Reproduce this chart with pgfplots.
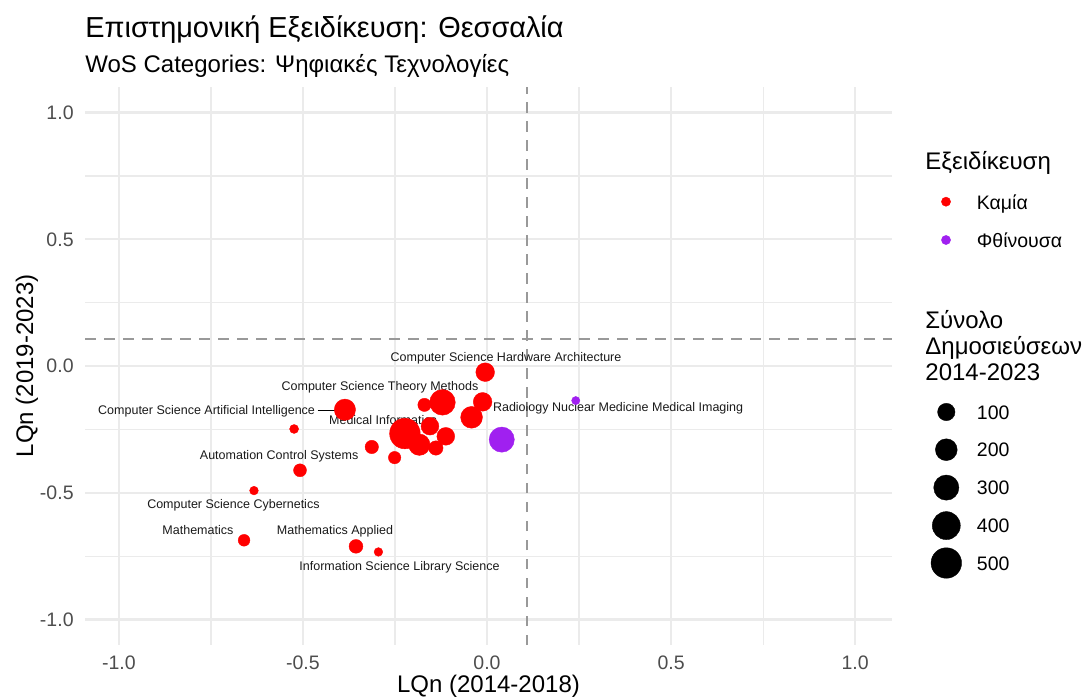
\documentclass[border=0pt]{standalone}
\usepackage{fontspec}
\setmainfont{Liberation Sans}
\usepackage{pgfplots}
\pgfplotsset{compat=1.18}
\usepackage{pgfplotstable}
\definecolor{lqred}{HTML}{FF0000}
\definecolor{lqpurple}{HTML}{A020F0}
\definecolor{gridc}{HTML}{EBEBEB}
\definecolor{tickc}{HTML}{4D4D4D}
\definecolor{dashc}{HTML}{999999}
\definecolor{lblc}{HTML}{1A1A1A}

% LQn 2014-2018, LQn 2019-2023, total publications 2014-2023
\pgfplotstableread{
x y n
-0.005 -0.024 125
-0.386 -0.172 185
-0.524 -0.248 8
-0.121 -0.143 315
-0.170 -0.153 38
-0.012 -0.141 125
-0.042 -0.202 199
-0.155 -0.237 107
-0.223 -0.266 505
-0.184 -0.310 189
-0.112 -0.277 107
-0.139 -0.323 52
-0.313 -0.319 40
-0.251 -0.361 30
-0.508 -0.411 35
-0.633 -0.491 7
-0.660 -0.687 24
-0.356 -0.711 45
-0.295 -0.733 7
}\redtab

\pgfplotstableread{
x y n
0.040 -0.290 300
0.241 -0.136 6
}\purpletab

\pgfplotstableread{
x y n
946.3 412.0 100
946.3 449.7 200
946.3 487.6 300
946.3 525.6 400
946.3 563.0 500
}\sizetab

\pgfplotsset{
  bubble/.style={scatter, only marks, mark=*,
    scatter/use mapped color={draw=#1, fill=#1, line width=0.2pt},
    visualization depends on={\thisrow{n} \as \nval},
    scatter/@pre marker code/.append style={/tikz/mark size={0.5*(3.6+12*sqrt((\nval-5)/525))}}},
}
\tikzset{lbl/.style={font=\fontsize{6.25}{7}\selectfont, text=lblc, inner sep=0pt, anchor=center}}

\begin{document}
\begin{tikzpicture}
\useasboundingbox (0,0) rectangle (542.5pt,348pt);
\begin{axis}[
  at={(42.5pt,25.5pt)}, anchor=south west,
  width=403.5pt, height=279.15pt, scale only axis,
  xmin=-1.092, xmax=1.1, ymin=-1.1, ymax=1.102,
  axis line style={draw=none},
  major tick length=0pt, minor tick length=0pt,
  xtick={-1,-0.5,0,0.5,1}, xticklabels={-1.0,-0.5,0.0,0.5,1.0},
  ytick={-1,-0.5,0,0.5,1}, yticklabels={-1.0,-0.5,0.0,0.5,1.0},
  minor xtick={-0.75,-0.25,0.25,0.75},
  minor ytick={-0.75,-0.25,0.25,0.75},
  grid=both,
  major grid style={gridc, line width=1.15pt},
  minor grid style={gridc, line width=0.6pt},
  xticklabel style={font=\fontsize{9.75}{11}\selectfont, text=tickc, inner sep=0pt, anchor=north, yshift=-5pt},
  yticklabel style={font=\fontsize{9.75}{11}\selectfont, text=tickc, inner sep=0pt, anchor=east, xshift=-5.5pt},
  xlabel={LQn (2014-2018)}, ylabel={LQn (2019-2023)},
  xlabel style={at={(axis description cs:0.5,-0.0736)}, anchor=center, font=\fontsize{12}{14}\selectfont, inner sep=0pt},
  ylabel style={at={(axis description cs:-0.0720,0.5)}, anchor=center, font=\fontsize{12}{14}\selectfont, inner sep=0pt},
  clip=false,
]
\addplot[dashc, line width=1pt, dash pattern=on 5.25pt off 4.25pt] coordinates {(0.108,-1.1) (0.108,1.102)};
\addplot[dashc, line width=1pt, dash pattern=on 5.25pt off 4.25pt] coordinates {(-1.092,0.108) (1.1,0.108)};

\addplot[bubble=lqred] table[x=x, y=y, meta=n]{\redtab};
\addplot[bubble=lqpurple] table[x=x, y=y, meta=n]{\purpletab};

\addplot[black, line width=0.75pt] coordinates {(-0.460,-0.1755) (-0.3905,-0.1755)};

\node[lbl] at (axis cs:0.0516,0.0323) {Computer Science Hardware Architecture};
\node[lbl] at (axis cs:-0.2908,-0.0821) {Computer Science Theory Methods};
\node[lbl] at (axis cs:-0.7617,-0.1783) {Computer Science Artificial Intelligence};
\node[lbl] at (axis cs:-0.2826,-0.2110) {Medical Informatics};
\node[lbl] at (axis cs:0.356,-0.1677) {Radiology Nuclear Medicine Medical Imaging};
\node[lbl] at (axis cs:-0.5647,-0.3558) {Automation Control Systems};
\node[lbl] at (axis cs:-0.6889,-0.5491) {Computer Science Cybernetics};
\node[lbl] at (axis cs:-0.7853,-0.6477) {Mathematics};
\node[lbl] at (axis cs:-0.4130,-0.6529) {Mathematics Applied};
\node[lbl] at (axis cs:-0.2378,-0.7937) {Information Science Library Science};
\end{axis}

% overlay axis in pixel units for titles and legend
\begin{axis}[
  at={(0pt,0pt)}, anchor=south west,
  width=542.5pt, height=348pt, scale only axis,
  xmin=0, xmax=1085, ymin=0, ymax=696, y dir=reverse,
  hide axis, clip=false,
]
\node[anchor=base west, inner sep=0pt, font=\fontsize{14.45}{17}\selectfont] at (axis cs:85,37.5) {Επιστημονική Εξειδίκευση: Θεσσαλία};
\node[anchor=base west, inner sep=0pt, font=\fontsize{12}{14}\selectfont] at (axis cs:85,72.5) {WoS Categories: Ψηφιακές Τεχνολογίες};

\node[anchor=base west, inner sep=0pt, font=\fontsize{12}{14}\selectfont] at (axis cs:925,169.5) {Εξειδίκευση};
\addplot[only marks, mark=*, mark size=2.3pt, mark options={draw=lqred, fill=lqred, line width=0.2pt}] coordinates {(946,201.7)};
\addplot[only marks, mark=*, mark size=2.3pt, mark options={draw=lqpurple, fill=lqpurple, line width=0.2pt}] coordinates {(946,240)};
\node[anchor=base west, inner sep=0pt, font=\fontsize{9.75}{11}\selectfont] at (axis cs:976.5,209) {Καμία};
\node[anchor=base west, inner sep=0pt, font=\fontsize{9.75}{11}\selectfont] at (axis cs:976.5,247) {Φθίνουσα};

\node[anchor=base west, inner sep=0pt, font=\fontsize{12}{14}\selectfont] at (axis cs:925,328.5) {Σύνολο};
\node[anchor=base west, inner sep=0pt, font=\fontsize{12}{14}\selectfont] at (axis cs:925,354.5) {Δημοσιεύσεων};
\node[anchor=base west, inner sep=0pt, font=\fontsize{12}{14}\selectfont] at (axis cs:925,380.5) {2014-2023};

\addplot[bubble=black] table[x=x, y=y, meta=n]{\sizetab};
\node[anchor=base west, inner sep=0pt, font=\fontsize{9.75}{11}\selectfont] at (axis cs:976.5,419) {100};
\node[anchor=base west, inner sep=0pt, font=\fontsize{9.75}{11}\selectfont] at (axis cs:976.5,456.7) {200};
\node[anchor=base west, inner sep=0pt, font=\fontsize{9.75}{11}\selectfont] at (axis cs:976.5,494.6) {300};
\node[anchor=base west, inner sep=0pt, font=\fontsize{9.75}{11}\selectfont] at (axis cs:976.5,532.6) {400};
\node[anchor=base west, inner sep=0pt, font=\fontsize{9.75}{11}\selectfont] at (axis cs:976.5,570) {500};
\end{axis}
\end{tikzpicture}
\end{document}
